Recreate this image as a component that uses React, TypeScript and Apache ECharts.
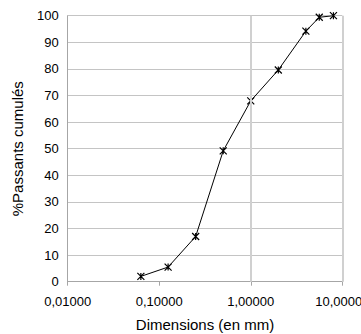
import React, { useEffect, useRef } from "react";
import * as echarts from "echarts";

const sizes = [0.063, 0.125, 0.25, 0.5, 1, 2, 4, 5.6, 8];
const passing = [2, 5.5, 17, 49.2, 68, 79.6, 94.2, 99.4, 100];
const yTicks = [0, 10, 20, 30, 40, 50, 60, 70, 80, 90, 100];
const xGridLines = [1, 10];

export default function App() {
  const ref = useRef<HTMLDivElement>(null);
  useEffect(() => {
    const chart = echarts.init(ref.current!, null, { renderer: "svg" });
    const font = "'Liberation Sans', Arial, sans-serif";
    chart.setOption({
      animation: false,
      backgroundColor: "#ffffff",
      grid: {
        left: 67.7,
        right: 18.7,
        top: 15.7,
        bottom: 52.3,
        containLabel: false,
        outerBoundsMode: "none",
      },
      xAxis: {
        type: "log",
        logBase: 10,
        min: 0.01,
        max: 10,
        name: "Dimensions (en mm)",
        nameLocation: "middle",
        nameGap: 35,
        nameTextStyle: { fontFamily: font, fontSize: 15, color: "#000" },
        axisLine: { show: true, lineStyle: { color: "#a6a6a6", width: 1 } },
        axisTick: { show: true, length: 4, lineStyle: { color: "#a6a6a6" } },
        minorTick: { show: false },
        splitLine: { show: false },
        axisLabel: {
          fontFamily: font,
          fontSize: 13,
          color: "#000",
          margin: 13,
          hideOverlap: false,
          formatter: (v: number) => v.toFixed(5).replace(".", ","),
        },
      },
      yAxis: {
        type: "value",
        min: yTicks[0],
        max: yTicks[yTicks.length - 1],
        interval: 10,
        name: "%Passants cumulés",
        nameLocation: "middle",
        nameGap: 43,
        nameTextStyle: { fontFamily: font, fontSize: 15, color: "#000" },
        axisLine: { show: true, lineStyle: { color: "#a6a6a6", width: 1 } },
        axisTick: { show: false },
        splitLine: { show: true, lineStyle: { color: "#c4c4c4", width: 1 } },
        axisLabel: { fontFamily: font, fontSize: 13, color: "#000", margin: 9 },
      },
      series: [
        {
          type: "line",
          data: sizes.map((s, i) => [s, passing[i]]),
          symbol: "path://M0,0L8,8M8,0L0,8M4,0L4,8",
          symbolSize: 7,
          lineStyle: { color: "#000", width: 1 },
          itemStyle: { color: "none", borderColor: "#000", borderWidth: 1.2 },
          markLine: {
            silent: true,
            symbol: "none",
            label: { show: false },
            lineStyle: { color: "#d0d0d0", width: 2, type: "solid" },
            data: xGridLines.map((x) => ({ xAxis: x })),
          },
          z: 3,
        },
      ],
    });
    return () => chart.dispose();
  }, []);
  return (
    <div
      ref={ref}
      style={{ position: "fixed", left: 0, top: 0, width: 361, height: 334 }}
    />
  );
}
